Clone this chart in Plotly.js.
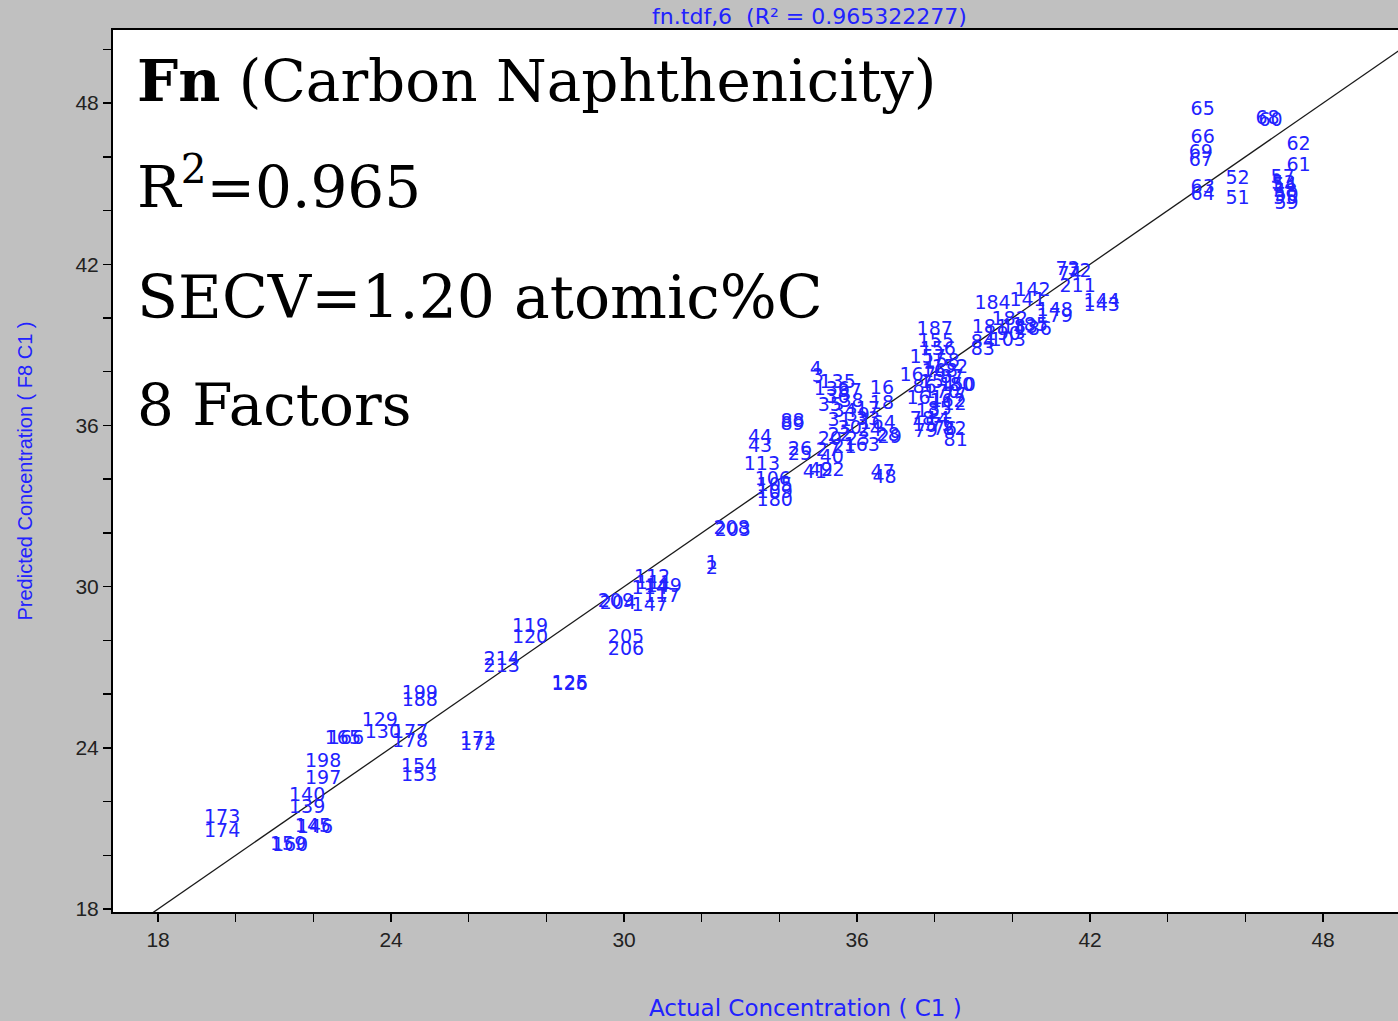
<!DOCTYPE html>
<html>
<head>
<meta charset="utf-8">
<script src="https://cdn.plot.ly/plotly-3.0.1.min.js"></script>
<style>html,body{margin:0;padding:0;background:#c0c0c0;}</style>
</head>
<body>
<div id="chart" style="width:1398px;height:1021px;"></div>
<script>
// Sample labels (sample numbers drawn as markers)
const sampleLabels = ['65','68','60','66','69','67','62','61','52','57','53','63','64','51','54','58','50','59','55',
 '73','72','74','142','211','141','184','144','143','148','179','182','185','186','183','181','84','103','83','190',
 '187','155','156','157','158','152','167','168','87','151','150','86','170','77','161','162','12','85','13','78','14','15','75','79','76','82','81','80',
 '4','3','135','136','37','16','36','38','18','35','17','34','39','31','33','164','30','24','20','22','23','163','21','27','40','28','29','88','89','44','43','26','25','113','41','42','92','47','48','106','105','109','180',
 '208','203','1','2','112','111','114','149','117','147','209','204','119','120','205','206','214','213','125','126','199','188','129','130','177','178','165','166','171','172','198','197','154','153','140','139','173','174','145','146','159','160'];

// Actual concentration (C1)
const actual = [44.90,46.57,46.65,44.90,44.85,44.85,47.37,47.37,45.80,46.96,46.98,44.90,44.90,45.80,47.01,47.03,47.06,47.06,47.03,
 41.42,41.73,41.47,40.52,41.68,40.39,39.49,42.30,42.30,41.09,41.09,39.93,40.45,40.55,40.19,39.42,39.24,39.88,39.24,39.75,
 38.00,38.03,38.08,37.82,38.18,38.39,37.56,38.13,38.44,38.08,38.59,37.74,38.18,38.51,37.74,38.33,38.51,38.13,37.82,37.67,38.08,37.74,38.18,37.77,38.26,38.51,38.54,38.70,
 34.94,34.99,35.50,35.35,35.81,36.64,35.50,35.86,36.64,35.30,36.28,35.68,36.02,35.55,36.28,36.53,35.81,36.33,35.30,35.55,36.02,36.12,35.68,35.25,35.35,36.79,36.84,34.34,34.34,33.50,33.50,34.53,34.53,33.55,34.91,35.07,35.37,36.66,36.71,33.83,33.88,33.88,33.88,
 32.77,32.80,32.26,32.26,30.72,30.77,30.66,31.02,30.97,30.66,29.79,29.84,27.58,27.58,30.05,30.05,26.85,26.85,28.60,28.60,24.74,24.74,23.71,23.79,24.49,24.49,22.76,22.84,26.24,26.24,22.25,22.25,24.72,24.72,21.84,21.84,19.65,19.65,21.99,22.04,21.35,21.40];

// Predicted concentration (F8 C1)
const predicted = [47.74,47.40,47.33,46.69,46.14,45.84,46.43,45.65,45.17,45.21,44.98,44.83,44.57,44.42,44.90,44.68,44.55,44.24,44.42,
 41.78,41.71,41.60,41.00,41.15,40.63,40.52,40.59,40.44,40.26,40.03,39.92,39.70,39.55,39.62,39.62,39.06,39.14,38.80,39.36,
 39.55,39.10,38.80,38.51,38.36,38.13,37.84,37.99,37.76,37.57,37.46,37.39,37.20,37.09,36.98,36.87,36.76,36.57,36.50,36.20,36.20,35.98,35.98,35.75,35.83,35.83,35.42,37.46,
 38.06,37.80,37.58,37.32,37.24,37.35,37.02,36.87,36.79,36.72,36.57,36.50,36.35,36.16,36.20,36.05,35.87,35.79,35.45,35.60,35.45,35.23,35.16,35.05,34.78,35.60,35.53,36.12,36.01,35.53,35.19,35.08,34.90,34.52,34.23,34.30,34.30,34.23,34.04,33.97,33.74,33.48,33.18,
 32.14,32.07,30.84,30.65,30.32,30.10,29.91,29.98,29.61,29.28,29.43,29.35,28.49,28.09,28.09,27.64,27.27,27.01,26.37,26.34,26.00,25.74,25.00,24.55,24.55,24.22,24.33,24.33,24.29,24.10,23.47,22.84,23.28,22.95,22.21,21.76,21.39,20.87,21.05,21.01,20.38,20.34];

// Ideal (y = x) reference line
const lineX = [17.8, 50.0];
const lineY = [17.8, 50.0];

// Tick values / labels
const xTickVals = [18,20,22,24,26,28,30,32,34,36,38,40,42,44,46,48];
const xTickText = ['18','','','24','','','30','','','36','','','42','','','48'];
const yTickVals = [18,20,22,24,26,28,30,32,34,36,38,40,42,44,46,48,50];
const yTickText = ['18','','','24','','','30','','','36','','','42','','','48',''];

const traces = [
  {x: lineX, y: lineY, mode: 'lines', type: 'scatter',
   line: {color: '#1a1a1a', width: 1.3}, hoverinfo: 'skip', showlegend: false},
  {x: actual, y: predicted, text: sampleLabels, mode: 'text', type: 'scatter',
   textposition: 'middle center',
   textfont: {family: 'DejaVu Sans', size: 19, color: '#2222ff'},
   hoverinfo: 'skip', showlegend: false, cliponaxis: false}
];

const serif = 'DejaVu Serif';
const layout = {
  width: 1398, height: 1021, autosize: false,
  paper_bgcolor: '#c0c0c0', plot_bgcolor: '#ffffff',
  margin: {l: 113, r: 0, t: 30, b: 109, pad: 0},
  title: {text: 'fn.tdf,6\u00a0\u00a0(R\u00b2 = 0.965322277)', x: 0.579, xanchor: 'center',
          y: 0.984, yanchor: 'middle', font: {family: 'DejaVu Sans', size: 22, color: '#2222ff'}},
  xaxis: {range: [16.84, 49.93], tickmode: 'array', tickvals: xTickVals, ticktext: xTickText,
          ticks: 'outside', ticklen: 8, tickwidth: 1.5, tickcolor: '#000',
          tickfont: {family: 'Liberation Sans', size: 21, color: '#222'},
          showline: true, linecolor: '#000', linewidth: 2, mirror: true,
          showgrid: false, zeroline: false},
  yaxis: {range: [17.89, 50.72], tickmode: 'array', tickvals: yTickVals, ticktext: yTickText,
          ticks: 'outside', ticklen: 8, tickwidth: 1.5, tickcolor: '#000',
          tickfont: {family: 'Liberation Sans', size: 21, color: '#222'},
          showline: true, linecolor: '#000', linewidth: 2, mirror: true,
          showgrid: false, zeroline: false,
          title: {text: 'Predicted Concentration ( F8 C1 )', standoff: 37,
                  font: {family: 'Liberation Sans', size: 20, color: '#2222ff'}}},
  annotations: [
    {xref: 'paper', yref: 'paper', x: 0.539, y: -0.109, xanchor: 'center', yanchor: 'middle', showarrow: false,
     text: 'Actual Concentration ( C1 )', font: {family: 'DejaVu Sans', size: 23, color: '#2222ff'}},
    {xref: 'paper', yref: 'paper', x: 0.017, y: 0.942, xanchor: 'left', yanchor: 'middle', showarrow: false,
     text: '<b>Fn</b> (Carbon Naphthenicity)', font: {family: serif, size: 58, color: '#000'}},
    {xref: 'paper', yref: 'paper', x: 0.017, y: 0.826, xanchor: 'left', yanchor: 'middle', showarrow: false,
     text: 'R<sup>2</sup>=0.965', font: {family: serif, size: 58, color: '#000'}},
    {xref: 'paper', yref: 'paper', x: 0.017, y: 0.697, xanchor: 'left', yanchor: 'middle', showarrow: false,
     text: 'SECV=1.20 atomic%C', font: {family: serif, size: 60, color: '#000'}},
    {xref: 'paper', yref: 'paper', x: 0.017, y: 0.575, xanchor: 'left', yanchor: 'middle', showarrow: false,
     text: '8 Factors', font: {family: serif, size: 58, color: '#000'}}
  ]
};

Plotly.newPlot('chart', traces, layout, {displayModeBar: false, staticPlot: true});
</script>
</body>
</html>
